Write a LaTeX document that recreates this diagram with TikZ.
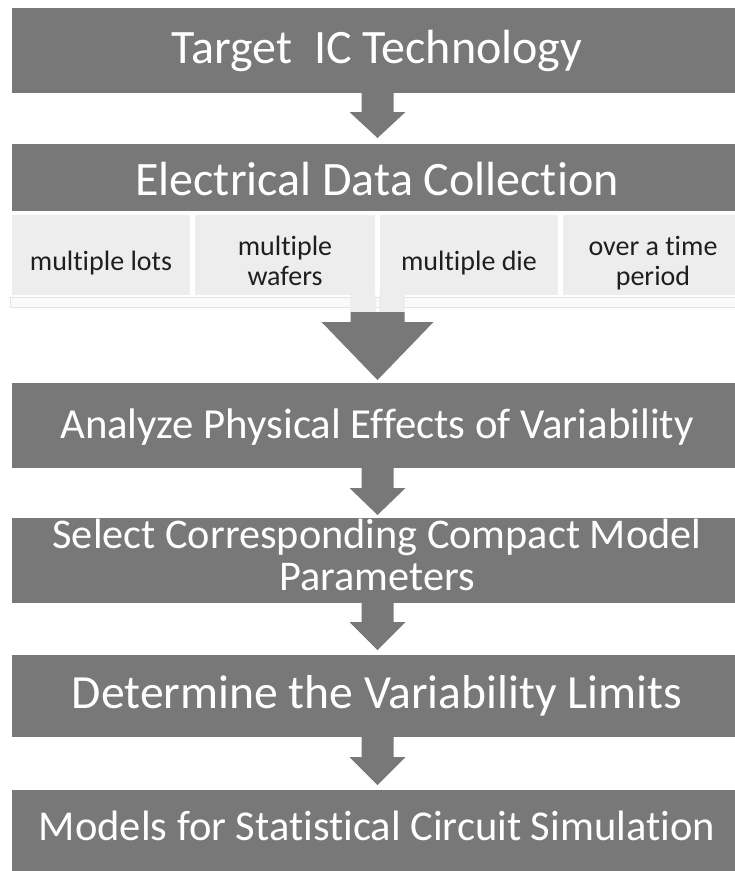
\documentclass[tikz,border=0pt]{standalone}
\usepackage{fontspec}
\setmainfont{Carlito}[Ligatures=NoCommon]
\usetikzlibrary{calc}
\definecolor{dk}{HTML}{787878}
\definecolor{lt}{HTML}{EDEDED}
\definecolor{st}{HTML}{FAFAFA}
\definecolor{stl}{HTML}{E4E4E4}
\begin{document}
\begin{tikzpicture}[x=1pt,y=-1pt,
  box/.style={fill=dk, minimum width=731pt, inner sep=0pt, outer sep=0pt, anchor=north},
  lbl/.style={text=white, inner sep=0pt, align=center, anchor=base},
  sub/.style={fill=lt, inner sep=0pt, outer sep=0pt, anchor=north west},
  sublbl/.style={text=black!88, inner sep=0pt, align=center, anchor=base,
     font=\fontsize{28}{30}\selectfont},
  arr/.style={fill=dk}]
\useasboundingbox (0,0) rectangle (735,871);
% boxes
\node[box, minimum height=85pt] (b1) at (377.5,8) {};
\node[box, minimum height=67pt] (b2) at (377.5,144) {};
\node[box, minimum height=85pt] (b3) at (377.5,383) {};
\node[box, minimum height=85pt] (b4) at (377.5,518) {};
\node[box, minimum height=82pt] (b5) at (377.5,655) {};
\node[box, minimum height=90pt] (b6) at (377.5,790) {};
% sub boxes
\node[sub, minimum width=178pt, minimum height=80pt] (s1) at (12,215) {};
\node[sub, minimum width=180pt, minimum height=80pt] (s2) at (195,215) {};
\node[sub, minimum width=178pt, minimum height=80pt] (s3) at (380,215) {};
\node[sub, minimum width=180pt, minimum height=80pt] (s4) at (563,215) {};
% faint strip below the sub boxes
\fill[st, draw=stl, line width=0.5pt] (10,297) rectangle (735,307);
\fill[lt] (350,295) rectangle (376,312);
\fill[lt] (379,295) rectangle (405,312);
% labels
\node[lbl, font=\fontsize{48}{50}\selectfont] (t1) at (377,63) {Target\ \ IC Technology};
\node[lbl, font=\fontsize{48}{50}\selectfont] (t2) at (377,195) {Electrical Data Collection};
\node[sublbl] (u1) at (101,270) {multiple lots};
\node[sublbl] (u2) at (285,285) {multiple\\wafers};
\node[sublbl] (u3) at (469,270) {multiple die};
\node[sublbl] (u4) at (653,285) {over a time\\period};
\node[lbl, font=\fontsize{42.8}{46}\selectfont] (t3) at (377,438) {Analyze Physical Effects of Variability};
\node[lbl, font=\fontsize{42.3}{42}\selectfont] (t4) at (377,590) {Select Corresponding Compact Model\\Parameters};
\node[lbl, font=\fontsize{47.6}{50}\selectfont] (t5) at (377,708) {Determine the Variability Limits};
\node[lbl, font=\fontsize{42.5}{46}\selectfont] (t6) at (377,840) {Models for Statistical Circuit Simulation};
% block arrows
\newcommand\blockarrow[7]{% from, to, shaft half width, head half width, head length, gap, shaft start offset
  \fill[arr] ($(#1.south)+(-#3,#7)$) -- ($(#1.south)+(#3,#7)$)
    -- ($(#2.north)+(#3,-#6-#5)$) -- ($(#2.north)+(#4,-#6-#5)$)
    -- ($(#2.north)+(0,-#6)$)
    -- ($(#2.north)+(-#4,-#6-#5)$) -- ($(#2.north)+(-#3,-#6-#5)$) -- cycle;}
\blockarrow{b1}{b2}{16}{28}{26}{6}{0}
\coordinate (sb) at (377.5,295);
\blockarrow{sb}{b3}{27}{56}{58}{3}{17}
\blockarrow{b3}{b4}{16}{28}{27}{3}{0}
\blockarrow{b4}{b5}{16}{28}{28}{5}{0}
\blockarrow{b5}{b6}{16}{28}{28}{5}{0}
\end{tikzpicture}
\end{document}
